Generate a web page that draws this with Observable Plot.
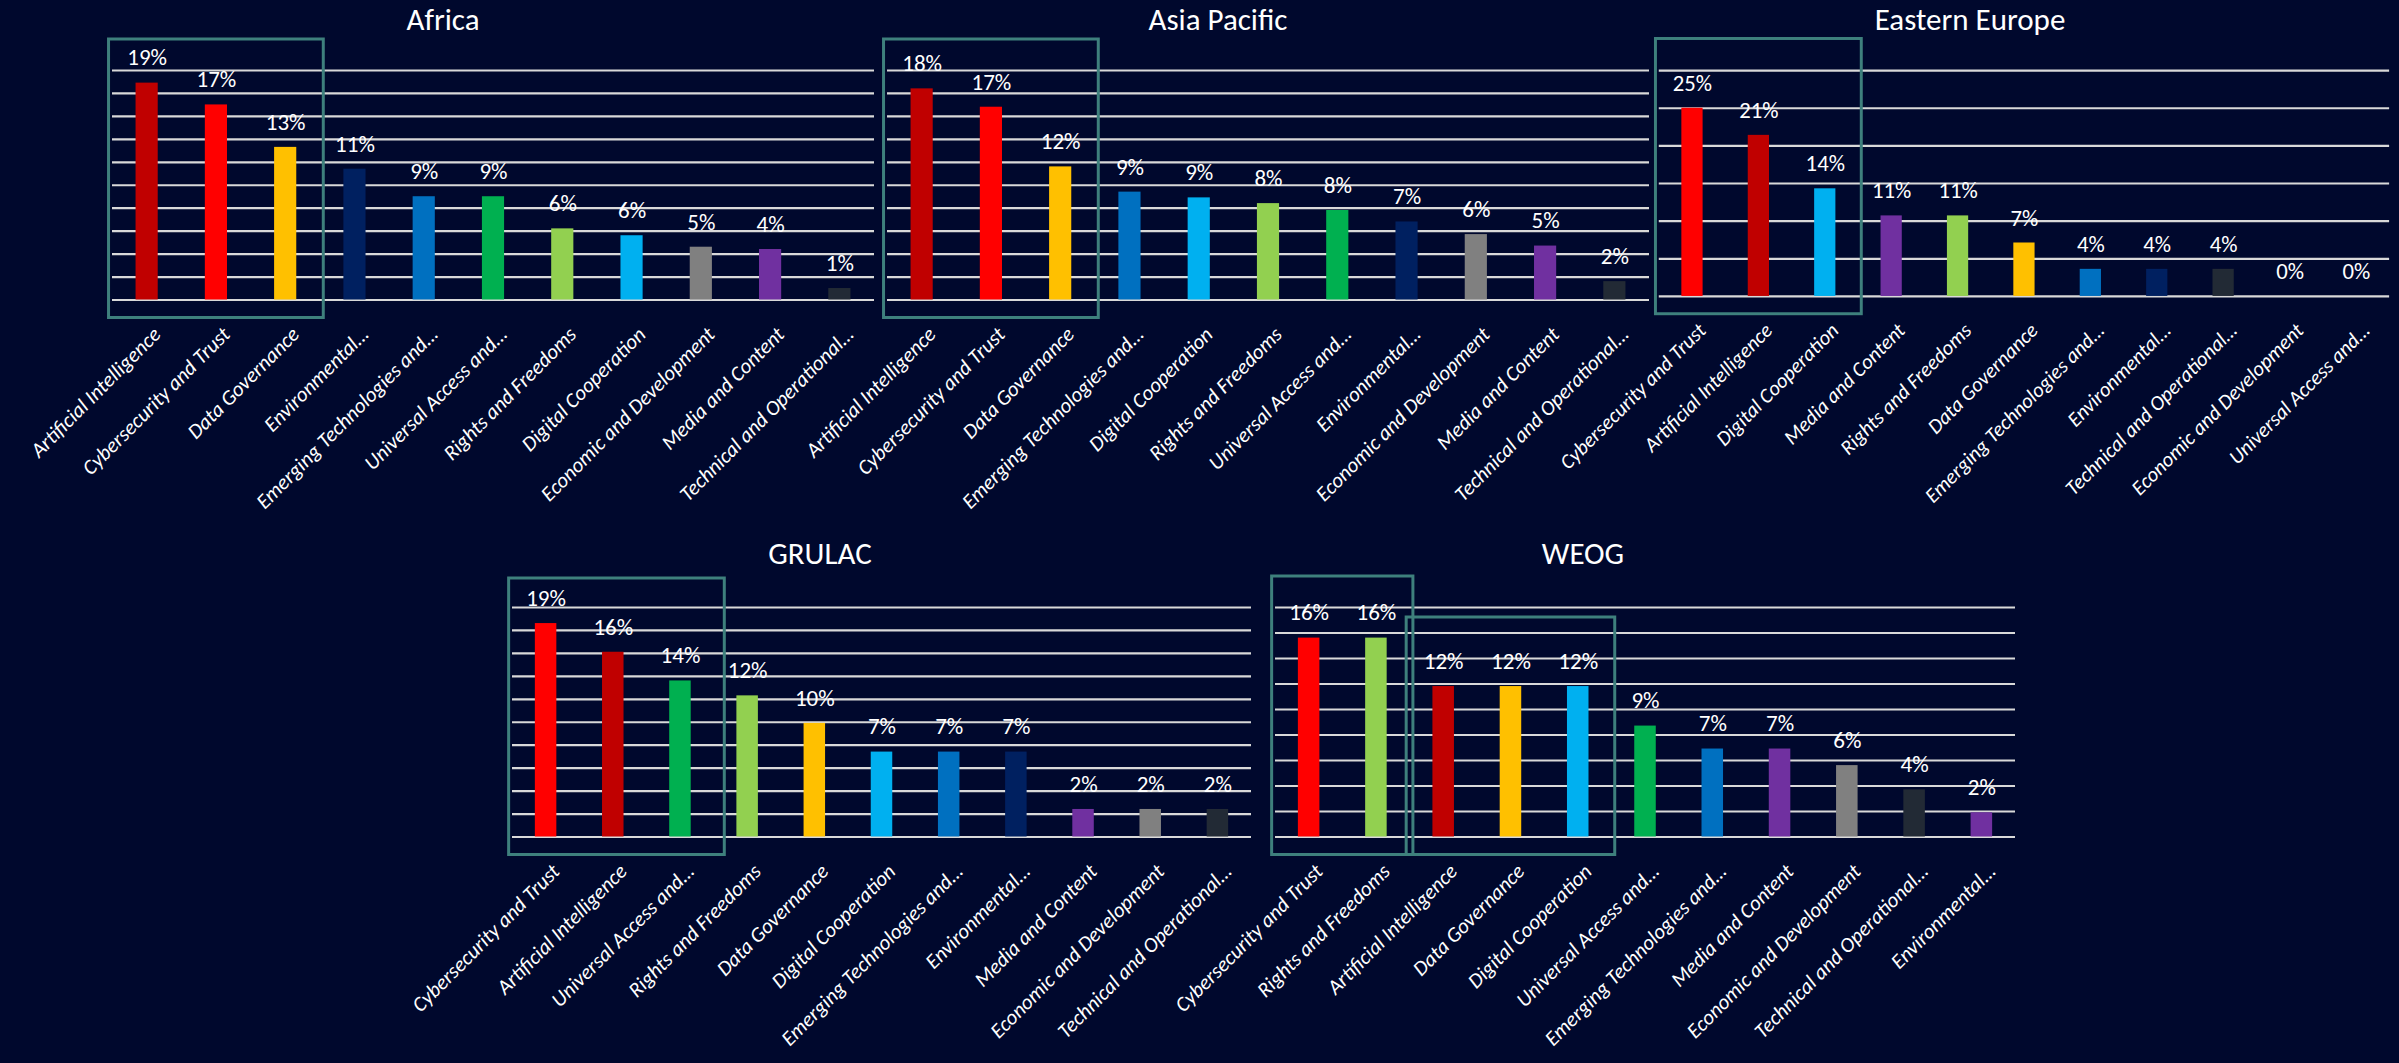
<!DOCTYPE html>
<html>
<head>
<meta charset="utf-8">
<script src="https://cdn.jsdelivr.net/npm/d3@7"></script>
<script src="https://cdn.jsdelivr.net/npm/@observablehq/plot@0.6"></script>
<style>
  html, body { margin: 0; padding: 0; background: #00082D; overflow: hidden; }
  #stage { position: relative; width: 2399px; height: 1063px; background: #00082D; font-family: Carlito, Calibri, Lato, sans-serif; }
  .title { position: absolute; color: #ffffff; font-size: 31px; line-height: 31px; white-space: nowrap; transform: translateX(-50%); }
  .chart { position: absolute; }
  .chart svg { overflow: visible; }
</style>
</head>
<body>
<div id="stage"></div>
<script>
// ---------- DATA ----------
const africaCategories = ["Artificial Intelligence", "Cybersecurity and Trust", "Data Governance", "Environmental…", "Emerging Technologies and…", "Universal Access and…", "Rights and Freedoms", "Digital Cooperation", "Economic and Development", "Media and Content", "Technical and Operational…"];
const africaValues = [18.9, 17.0, 13.3, 11.4, 9.0, 9.0, 6.2, 5.6, 4.6, 4.4, 1.0];

const asiaCategories = ["Artificial Intelligence", "Cybersecurity and Trust", "Data Governance", "Emerging Technologies and…", "Digital Cooperation", "Rights and Freedoms", "Universal Access and…", "Environmental…", "Economic and Development", "Media and Content", "Technical and Operational…"];
const asiaValues = [18.4, 16.8, 11.6, 9.4, 8.9, 8.4, 7.8, 6.8, 5.7, 4.7, 1.6];

const easternEuropeCategories = ["Cybersecurity and Trust", "Artificial Intelligence", "Digital Cooperation", "Media and Content", "Rights and Freedoms", "Data Governance", "Emerging Technologies and…", "Environmental…", "Technical and Operational…", "Economic and Development", "Universal Access and…"];
const easternEuropeValues = [25.0, 21.4, 14.3, 10.7, 10.7, 7.1, 3.6, 3.6, 3.6, 0, 0];

const grulacCategories = ["Cybersecurity and Trust", "Artificial Intelligence", "Universal Access and…", "Rights and Freedoms", "Data Governance", "Digital Cooperation", "Emerging Technologies and…", "Environmental…", "Media and Content", "Economic and Development", "Technical and Operational…"];
const grulacValues = [18.6, 16.1, 13.6, 12.3, 9.9, 7.4, 7.4, 7.4, 2.4, 2.4, 2.4];

const weogCategories = ["Cybersecurity and Trust", "Rights and Freedoms", "Artificial Intelligence", "Data Governance", "Digital Cooperation", "Universal Access and…", "Emerging Technologies and…", "Media and Content", "Economic and Development", "Technical and Operational…", "Environmental…"];
const weogValues = [15.6, 15.6, 11.8, 11.8, 11.8, 8.7, 6.9, 6.9, 5.6, 3.7, 1.9];

// ---------- STYLES ----------
const categoryColors = {
  "Artificial Intelligence": "#C00000",
  "Cybersecurity and Trust": "#FF0000",
  "Data Governance": "#FFC000",
  "Environmental…": "#002060",
  "Emerging Technologies and…": "#0070C0",
  "Universal Access and…": "#00B050",
  "Rights and Freedoms": "#92D050",
  "Digital Cooperation": "#00B0F0",
  "Economic and Development": "#808080",
  "Media and Content": "#7030A0",
  "Technical and Operational…": "#222A35"
};
const weogColorOverrides = { "Environmental…": "#7030A0" };

const FONT = "Carlito, Calibri, Lato, sans-serif";
const GRID = "#D9D9D9";
const BOX = "#3E807D";

const charts = [
  { title: "Africa", cats: africaCategories, vals: africaValues, ymax: 20, step: 2,
    left: 112, right: 874, top: 70, bottom: 299.5, titleX: 443, titleY: 31,
    boxes: [{ from: 0, to: 2, topPx: 31 }] },
  { title: "Asia Pacific", cats: asiaCategories, vals: asiaValues, ymax: 20, step: 2,
    left: 887, right: 1649, top: 70, bottom: 299.5, titleX: 1218, titleY: 31,
    boxes: [{ from: 0, to: 2, topPx: 31 }] },
  { title: "Eastern Europe", cats: easternEuropeCategories, vals: easternEuropeValues, ymax: 30, step: 5,
    left: 1661, right: 2400, top: 71, bottom: 299.5, titleX: 1970, titleY: 31,
    boxes: [{ from: 0, to: 2, topPx: 32 }] },
  { title: "GRULAC", cats: grulacCategories, vals: grulacValues, ymax: 20, step: 2,
    left: 512, right: 1251, top: 607, bottom: 836.5, titleX: 820, titleY: 565,
    boxes: [{ from: 0, to: 2, topPx: 29, padR: 0.66 }] },
  { title: "WEOG", cats: weogCategories, vals: weogValues, ymax: 18, step: 2, overrides: weogColorOverrides,
    left: 1275, right: 2015, top: 607, bottom: 836.5, titleX: 1583, titleY: 565,
    boxes: [{ from: 0, to: 1, topPx: 31 }, { from: 2, to: 4, topPx: -10 }] }
];

const stage = document.getElementById("stage");
const mL = 190, mR = 10, mT = 75, mB = 220;

for (const c of charts) {
  const n = c.cats.length;
  const plotH = c.bottom - c.top;
  const unit = c.ymax / plotH; // data units per pixel
  const data = c.cats.map((cat, i) => ({
    i, cat, value: c.vals[i],
    color: (c.overrides && c.overrides[cat]) || categoryColors[cat]
  }));
  const boxes = c.boxes.map(b => ({
    x1: b.from - 0.55, x2: b.to + (b.padR ?? 0.55),
    y1: -18 * unit, y2: c.ymax + b.topPx * unit
  }));
  const ticks = d3.range(0, c.ymax + c.step / 2, c.step);

  const plot = Plot.plot({
    width: mL + (c.right - c.left) + mR,
    height: mT + plotH + mB,
    marginLeft: mL, marginRight: mR, marginTop: mT, marginBottom: mB,
    style: { background: "transparent", overflow: "visible", fontFamily: FONT, color: "#ffffff" },
    x: { domain: [-0.5, n - 0.5], axis: null },
    y: { domain: [0, c.ymax], axis: null },
    color: { type: "identity" },
    marks: [
      Plot.ruleY(ticks, { stroke: GRID, strokeWidth: 2.2 }),
      Plot.rect(data, { x1: d => d.i - 0.16, x2: d => d.i + 0.16, y1: 0, y2: "value", fill: "color" }),
      Plot.text(data, { x: "i", y: "value", text: d => Math.round(d.value) + "%", dy: -25,
        fill: "#ffffff", fontSize: 23, fontFamily: FONT }),
      Plot.text(data, { x: "i", y: 0, text: "cat", rotate: -45, textAnchor: "end", dx: 10, dy: 31,
        fill: "#ffffff", fontSize: 21, fontStyle: "italic", fontFamily: FONT }),
      Plot.rect(boxes, { x1: "x1", x2: "x2", y1: "y1", y2: "y2", fill: "none", stroke: BOX, strokeWidth: 3 })
    ]
  });
  const wrap = document.createElement("div");
  wrap.className = "chart";
  wrap.style.left = (c.left - mL) + "px";
  wrap.style.top = (c.top - mT) + "px";
  wrap.appendChild(plot);
  stage.appendChild(wrap);

  const t = document.createElement("div");
  t.className = "title";
  t.textContent = c.title;
  t.style.left = c.titleX + "px";
  t.style.top = (c.titleY - 27) + "px";
  stage.appendChild(t);
}
</script>
</body>
</html>
